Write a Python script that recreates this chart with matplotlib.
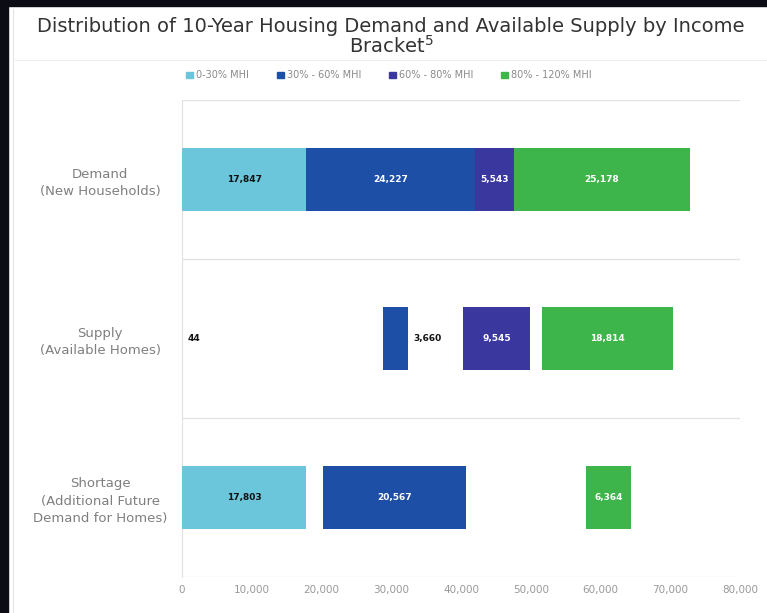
import numpy as np
import matplotlib.pyplot as plt
from matplotlib.patches import Rectangle

categories = ['Demand\n(New Households)',
              'Supply\n(Available Homes)',
              'Shortage\n(Additional Future\nDemand for Homes)']
brackets = ['0-30% MHI', '30% - 60% MHI', '60% - 80% MHI', '80% - 120% MHI']
colors = ['#6cc6db', '#1d4fa7', '#3a379f', '#3db54a']
label_colors = ['#111111', 'white', 'white', 'white']

# values per row, one entry per bracket
demand = [17847, 24227, 5543, 25178]
supply = [44, 3660, 9545, 18814]
shortage = [17803, 20567, 0, 6364]
# blank space left before each segment (as drawn in the original)
demand_gap = [0, 0, 0, 0]
supply_gap = [0, 28750, 7900, 1750]
shortage_gap = [0, 2400, 0, 17200]

rows = [demand, supply, shortage]
gaps = [demand_gap, supply_gap, shortage_gap]

fig = plt.figure(figsize=(7.67, 6.13), dpi=100)
fig.patch.set_facecolor('white')
# dark frame on top and left
fig.add_artist(Rectangle((0, 0.99), 1, 0.02, transform=fig.transFigure, color='#0b0c14', zorder=0))
fig.add_artist(Rectangle((0, 0), 0.01, 1, transform=fig.transFigure, color='#0b0c14', zorder=0))
fig.add_artist(plt.Line2D([0.017, 0.017], [0, 0.985], transform=fig.transFigure, color='#e4e4e4', lw=0.8))
fig.add_artist(plt.Line2D([0.02, 1], [0.902, 0.902], transform=fig.transFigure, color='#eeeeee', lw=0.8))

ax = fig.add_axes([0.2373, 0.0587, 0.7275, 0.7782])

for i, (vals, gp) in enumerate(zip(rows, gaps)):
    left = 0
    for j in range(4):
        left += gp[j]
        v = vals[j]
        if v > 0:
            ax.barh(i, v, left=left, height=0.4, color=colors[j], zorder=3)
            txt = f'{v:,}'
            if v >= 5000:
                ax.text(left + v / 2, i, txt, ha='center', va='center',
                        fontsize=6.5, fontweight='bold', color=label_colors[j], zorder=4)
            else:
                ax.text(left + v + 700, i, txt, ha='left', va='center',
                        fontsize=6.5, fontweight='bold', color='#111111', zorder=4)
        left += v

ax.set_xlim(0, 80000)
ax.set_ylim(2.5, -0.5)
ax.set_xticks(np.arange(0, 80001, 10000))
ax.set_xticklabels([f'{t:,}' for t in range(0, 80001, 10000)], color='#999999', fontsize=7.5)
ax.set_yticks(range(3))
ax.set_yticklabels(categories, color='#7f7f7f', fontsize=9.5, ha='center', linespacing=1.45)
ax.tick_params(axis='y', length=0, pad=59)
ax.tick_params(axis='x', length=0, pad=6)
for y in [-0.5, 0.5, 1.5, 2.5]:
    ax.axhline(y, color='#e2e2e2', lw=0.9, zorder=1)
for s in ['top', 'right', 'bottom']:
    ax.spines[s].set_visible(False)
ax.spines['left'].set_color('#e2e2e2')

handles = [Rectangle((0, 0), 1, 1, color=c) for c in colors]
fig.legend(handles, brackets, loc='center', bbox_to_anchor=(0.507, 0.877), ncol=4,
           frameon=False, fontsize=7, labelcolor='#8a8a8a', handlelength=0.7,
           handleheight=0.7, handletextpad=0.3, columnspacing=2.9)

fig.text(0.51, 0.956, 'Distribution of 10-Year Housing Demand and Available Supply by Income',
         ha='center', va='center', fontsize=14, color='#333333')
fig.text(0.51, 0.926, 'Bracket$^5$', ha='center', va='center', fontsize=14, color='#333333')

fig.savefig('out.png', dpi=100)
